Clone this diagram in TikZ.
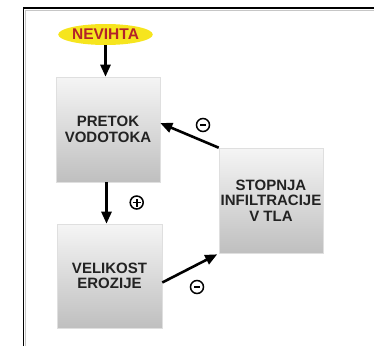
\documentclass[tikz,border=0pt]{standalone}
\usepackage{fontspec}
\setmainfont{Liberation Sans}
\usepackage{xcolor}
\usepackage{tikz}
\usetikzlibrary{arrows.meta}
\usetikzlibrary{shapes.geometric}

\definecolor{nevrumena}{HTML}{F6E51E}
\definecolor{nevrdeca}{HTML}{B3222A}
\definecolor{besedilo}{HTML}{222222}

\begin{document}
\begin{tikzpicture}[
      x=1pt, y=-1pt,
      >={Triangle[length=12pt,width=10pt]},
      lbl/.style={font=\bfseries\fontsize{15}{15.5}\selectfont, text=besedilo, align=center},
      skatla/.style={lbl, rectangle, draw=gray!25, line width=0.6pt,
        top color=gray!8, bottom color=gray!50,
        minimum width=104pt, minimum height=105pt, inner sep=0pt},
      puscica/.style={->, line width=2.6pt, black},
      znak/.style={circle, draw, line width=1.5pt, minimum size=13pt, inner sep=0pt}
    ]
    \useasboundingbox (0,0) rectangle (374,346);

    % Okvir
    \draw[gray!45, line width=1.2pt] (25.8,346) -- (25.8,10.3) -- (374,10.3);
    \draw[line width=1.6pt] (23.5,346) -- (23.5,8.2) -- (374,8.2);

    % Vozlisca
    \node[ellipse, fill=nevrumena, minimum width=91pt, minimum height=21pt, inner sep=0pt,
      font=\bfseries\fontsize{15.5}{16}\selectfont, text=nevrdeca] (nevihta) at (105.5,34.5) {NEVIHTA};
    \node[skatla] (pretok) at (108,129.5) {PRETOK\\VODOTOKA};
    \node[skatla, minimum width=105pt, minimum height=104pt] (velikost) at (109.5,276) {VELIKOST\\EROZIJE};
    \node[skatla] (stopnja) at (271,200.5) {STOPNJA\\INFILTRACIJE\\V TLA};

    % Povezave
    \draw[puscica] (nevihta.south) -- (nevihta.south |- pretok.north);
    \draw[puscica] ([xshift=-1.5pt]pretok.south) -- ([xshift=-1.5pt]pretok.south |- velikost.north);
    \draw[puscica] (velikost.-7.5) -- ([xshift=-1.5pt,yshift=-1pt]stopnja.south west);
    \draw[puscica] (stopnja.north west) -- (pretok.7);

    % Predznaki
    \node[znak, path picture={\draw[line width=1.6pt] (path picture bounding box.center) ++(-4pt,0) -- ++(8pt,0);
      \draw[line width=1.6pt] (path picture bounding box.center) ++(0,-4pt) -- ++(0,8pt);}] (plus) at (136.7,202.5) {};
    \node[znak, path picture={\draw[line width=2.2pt] (path picture bounding box.center) ++(-3pt,0) -- ++(6pt,0);}] (minusspodaj) at (197,287) {};
    \node[znak, path picture={\draw[line width=2.2pt] (path picture bounding box.center) ++(-3pt,0) -- ++(6pt,0);}] (minuszgoraj) at (203,125) {};
  \end{tikzpicture}
\end{document}
